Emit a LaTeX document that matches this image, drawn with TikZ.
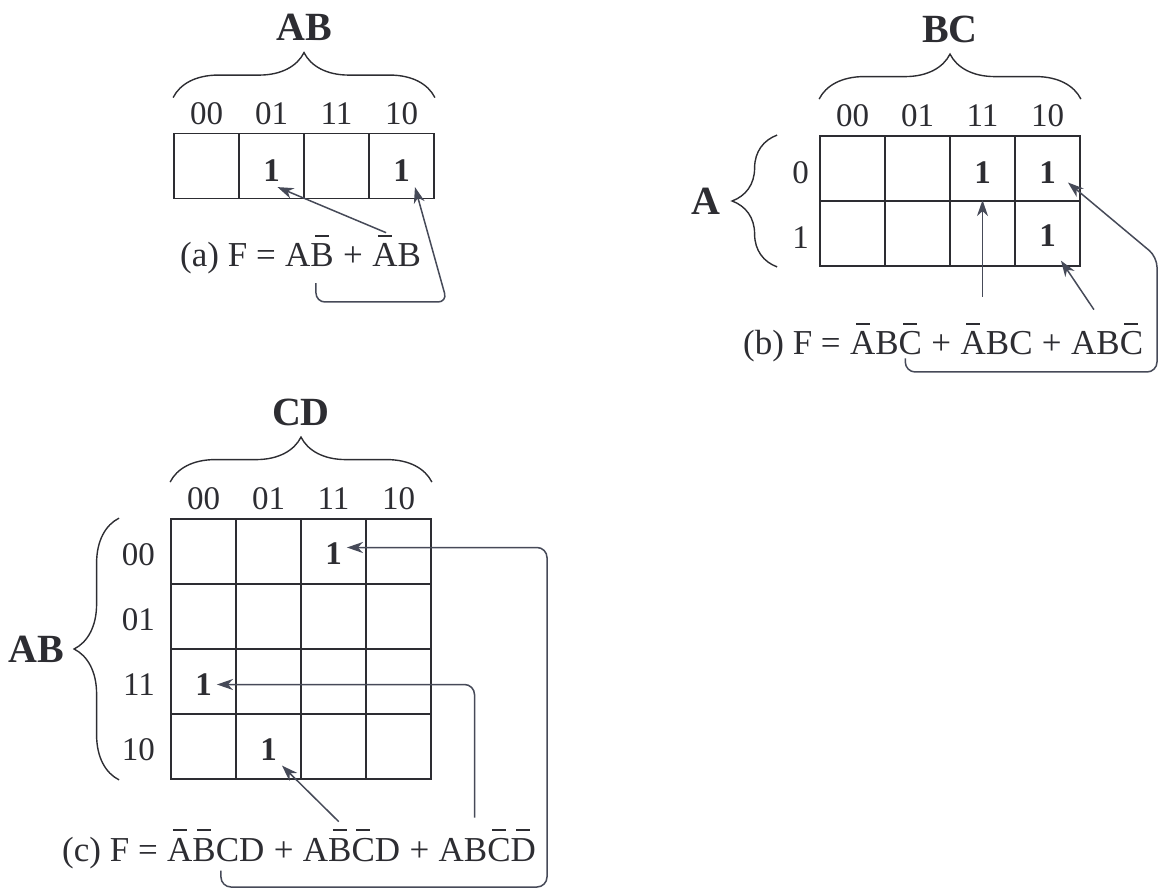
\documentclass[tikz,border=0pt]{standalone}
\usepackage{fontspec}
\setmainfont{Liberation Serif}
\usepackage{xcolor}
\usepackage{tikz}
\usetikzlibrary{arrows.meta, positioning, calc, decorations.pathreplacing}

\definecolor{ink}{RGB}{45,45,50}
\definecolor{wire}{RGB}{70,74,88}

\newcommand{\nt}[1]{\ooalign{#1\cr\hidewidth\rule[0.86em]{0.4em}{0.05em}\hidewidth\cr}}
\newcommand{\eqfont}{\fontsize{35}{40}\selectfont}
\newcommand{\lblfont}{\fontsize{33}{38}\selectfont}
\newcommand{\hdrfont}{\fontsize{40}{46}\selectfont\bfseries}
\newcommand{\onefont}{\fontsize{33}{38}\selectfont\bfseries}

\begin{document}
\begin{tikzpicture}[
    x=1pt, y=-1pt,
    cell/.style={draw=ink, line width=1.8pt, minimum width=65pt, minimum height=65pt, inner sep=0pt},
    collbl/.style={inner sep=0pt, font=\lblfont, text=ink},
    hdr/.style={inner sep=0pt, font=\hdrfont, text=ink},
    one/.style={inner sep=5pt, font=\onefont, text=ink},
    eq/.style={inner sep=0pt, anchor=base west, font=\eqfont, text=ink},
    brace/.style={decorate, decoration={brace, amplitude=45pt}, draw=ink, line width=1.4pt},
    arr/.style={-{Stealth[length=16pt, width=11pt, inset=5pt]}, draw=wire, line width=1.5pt},
]
\useasboundingbox (0,0) rectangle (1159,890);

% ---- Map (a): two variables ----
\foreach \cx/\cv in {0/00,1/01,2/11,3/10} {
  \node[cell] (a-\cx) at ({206.5+65*\cx},166) {};
  \node[collbl, above=8pt of a-\cx] (a-col\cx) {\cv};
}
\draw[brace] ([yshift=35pt]a-0.north west) -- ([yshift=35pt]a-3.north east);
\coordinate (a-tip) at ($(a-0.north west)!0.5!(a-3.north east)$);
\node[hdr, above=92pt of a-tip] (a-hdr) {AB};

\node[one, yshift=-5pt] (a-one1) at (a-1) {1};
\node[one, yshift=-5pt] (a-one2) at (a-3) {1};

\node[eq] (a-pre) at (180,267) {(a) F =};
\node[eq] (a-t1) at ([xshift=9pt]a-pre.base east) {A\nt{B}};
\node[eq] (a-p1) at ([xshift=9pt]a-t1.base east) {+};
\node[eq] (a-t2) at ([xshift=9pt]a-p1.base east) {\nt{A}B};

\coordinate (a-s1) at ([xshift=14pt, yshift=11pt]a-t2.north west);
\coordinate (a-s2) at ([xshift=-18pt, yshift=-16pt]a-t1.south east);
\coordinate (a-k) at (447,302);
\draw[arr] (a-s1) -- ([xshift=6pt]a-one1.south);
\draw[arr, rounded corners=9pt] (a-s2) |- (a-k) -- (a-one2.south east);

% ---- Map (b): three variables ----
\foreach \cx/\cv in {0/00,1/01,2/11,3/10} {
  \foreach \rx in {0,1}
    \node[cell] (b-r\rx-c\cx) at ({852.5+65*\cx},{168.5+65*\rx}) {};
  \node[collbl, above=8pt of b-r0-c\cx] (b-col\cx) {\cv};
}
\foreach \rx in {0,1}
  \node[collbl, left=10pt of b-r\rx-c0, yshift=-4pt] (b-row\rx) {\rx};

\draw[brace] ([yshift=36pt]b-r0-c0.north west) -- ([yshift=36pt]b-r0-c3.north east);
\coordinate (b-tip) at ($(b-r0-c0.north west)!0.5!(b-r0-c3.north east)$);
\node[hdr, above=92pt of b-tip] (b-hdr) {BC};
\draw[brace] ([xshift=-42pt]b-r1-c0.south west) -- ([xshift=-42pt]b-r0-c0.north west);
\coordinate (b-ltip) at ($(b-r0-c0.north west)!0.5!(b-r1-c0.south west)$);
\node[hdr, left=99pt of b-ltip] (b-lhdr) {A};

\node[one, yshift=-4pt] (b-one1) at (b-r0-c2) {1};
\node[one, yshift=-4pt] (b-one2) at (b-r0-c3) {1};
\node[one, yshift=-2pt] (b-one3) at (b-r1-c3) {1};

\node[eq] (b-pre) at (743,355) {(b) F =};
\node[eq] (b-t1) at ([xshift=9pt]b-pre.base east) {\nt{A}B\nt{C}};
\node[eq] (b-p1) at ([xshift=9pt]b-t1.base east) {+};
\node[eq] (b-t2) at ([xshift=9pt]b-p1.base east) {\nt{A}BC};
\node[eq] (b-p2) at ([xshift=9pt]b-t2.base east) {+};
\node[eq] (b-t3) at ([xshift=9pt]b-p2.base east) {AB\nt{C}};

\draw[arr] ($(b-one1 |- b-t2.north)+(0,-35)$) -- (b-one1 |- b-r1-c2.north);
\coordinate (b-s2) at ([xshift=23pt, yshift=22pt]b-t3.north west);
\draw[arr] (b-s2) -- ([yshift=-9pt]b-one3.south east);
\coordinate (b-s3) at ([xshift=-17pt, yshift=-3pt]b-t1.south east);
\coordinate (b-k1) at (1157,372);
\coordinate (b-k2) at (1157,257);
\draw[arr, rounded corners=10pt] (b-s3) |- (b-k1) -- (b-k2) -- ([xshift=7pt, yshift=-10pt]b-one2.east);

% ---- Map (c): four variables ----
\foreach \cx/\cv in {0/00,1/01,2/11,3/10} {
  \foreach \rx in {0,...,3}
    \node[cell] (c-r\rx-c\cx) at ({203.5+65*\cx},{551.5+65*\rx}) {};
  \node[collbl, above=8pt of c-r0-c\cx] (c-col\cx) {\cv};
  \node[collbl, left=15pt of c-r\cx-c0, yshift=-3pt] (c-row\cx) {\cv};
}
\draw[brace] ([yshift=36pt]c-r0-c0.north west) -- ([yshift=36pt]c-r0-c3.north east);
\coordinate (c-tip) at ($(c-r0-c0.north west)!0.5!(c-r0-c3.north east)$);
\node[hdr, above=92pt of c-tip] (c-hdr) {CD};
\draw[brace] ([xshift=-51pt]c-r3-c0.south west) -- ([xshift=-51pt]c-r0-c0.north west);
\coordinate (c-ltip) at ($(c-r0-c0.north west)!0.5!(c-r3-c0.south west)$);
\node[hdr, left=106pt of c-ltip] (c-lhdr) {AB};

\node[one, yshift=-2pt] (c-one1) at (c-r0-c2) {1};
\node[one, yshift=-3pt] (c-one2) at (c-r2-c0) {1};
\node[one, yshift=-3pt] (c-one3) at (c-r3-c1) {1};

\node[eq] (c-pre) at (62,861) {(c) F =};
\node[eq] (c-t1) at ([xshift=9pt]c-pre.base east) {\nt{A}\nt{B}CD};
\node[eq] (c-p1) at ([xshift=9pt]c-t1.base east) {+};
\node[eq] (c-t2) at ([xshift=9pt]c-p1.base east) {A\nt{B}\nt{C}D};
\node[eq] (c-p2) at ([xshift=9pt]c-t2.base east) {+};
\node[eq] (c-t3) at ([xshift=9pt]c-p2.base east) {AB\nt{C}\nt{D}};

\coordinate (c-s1) at ([xshift=36pt, yshift=16pt]c-t2.north west);
\draw[arr] (c-s1) -- (c-one3.south east);
\coordinate (c-s2) at ([xshift=36pt, yshift=20pt]c-t3.north west);
\draw[arr, rounded corners=10pt] (c-s2) |- (c-one2.east);
\coordinate (c-s3) at ([xshift=54pt, yshift=-9pt]c-t1.south west);
\coordinate (c-k) at (547,887);
\draw[arr, rounded corners=10pt] (c-s3) |- (c-k) |- ([yshift=6pt]c-one1.east);

\end{tikzpicture}
\end{document}
